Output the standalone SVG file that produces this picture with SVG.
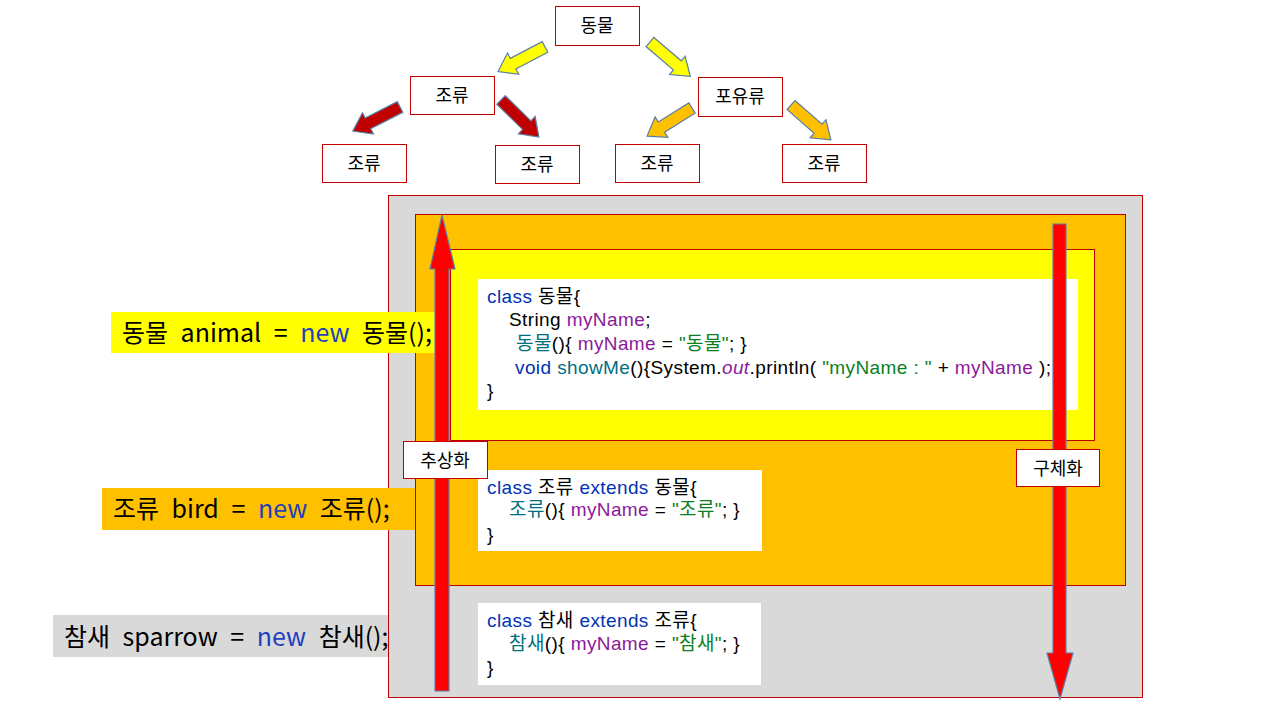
<svg xmlns="http://www.w3.org/2000/svg" width="1275" height="717" viewBox="0 0 1275 717">
<style>
.box{fill:#fff;stroke:#C00000;stroke-width:1}
.lbl{font-family:"Noto Sans CJK KR","Liberation Sans",sans-serif;font-size:18px;fill:#000;text-anchor:middle}
.code{font-family:"Liberation Sans","Noto Sans CJK KR",sans-serif;font-size:19px;letter-spacing:0.4px;fill:#000}
.big{font-family:"Noto Sans CJK KR","Liberation Sans",sans-serif;font-size:25px;word-spacing:7px;fill:#000}
.kw{fill:#0033B3}
.fn{fill:#00707F}
.fld{fill:#8B1A9A}
.str{fill:#0A7F1F}
.nw{fill:#1F3FBF}
.arr{stroke:#5B7FA6;stroke-width:1.2}
</style>
<defs>
<path id="blk" d="M0,-6 L36,-6 L36,-12 L53,0 L36,12 L36,6 L0,6 Z"/>
</defs>

<g id="tree-arrows">
<use href="#blk" class="arr" fill="#FFFF00" transform="translate(545,47) rotate(152.4)"/>
<use href="#blk" class="arr" fill="#FFFF00" transform="translate(650,42) rotate(40.5)"/>
<use href="#blk" class="arr" fill="#C00000" transform="translate(400,107) rotate(152.9)"/>
<use href="#blk" class="arr" fill="#C00000" transform="translate(501,100) rotate(44.3)"/>
<use href="#blk" class="arr" fill="#FFC000" transform="translate(692,108) rotate(148)"/>
<use href="#blk" class="arr" fill="#FFC000" transform="translate(791,105) rotate(41.2)"/>
</g>

<g id="n-animal"><rect class="box" x="555.5" y="6.5" width="84" height="39"/><text class="lbl" x="597" y="32">동물</text></g>
<g id="n-bird"><rect class="box" x="410.5" y="76.5" width="84" height="38"/><text class="lbl" x="452" y="102">조류</text></g>
<g id="n-mammal"><rect class="box" x="698.5" y="77.5" width="84" height="39"/><text class="lbl" x="740" y="103">포유류</text></g>
<g id="n-b1"><rect class="box" x="322.5" y="144.5" width="84" height="38"/><text class="lbl" x="364" y="170">조류</text></g>
<g id="n-b2"><rect class="box" x="495.5" y="145.5" width="84" height="38"/><text class="lbl" x="537" y="171">조류</text></g>
<g id="n-b3"><rect class="box" x="615.5" y="144.5" width="84" height="38"/><text class="lbl" x="657" y="170">조류</text></g>
<g id="n-b4"><rect class="box" x="782.5" y="144.5" width="84" height="38"/><text class="lbl" x="824" y="170">조류</text></g>

<g id="panel">
<rect x="388.5" y="195.5" width="754" height="502" fill="#D9D9D9" stroke="#C00000"/>
<rect x="415.5" y="214.5" width="710" height="371" fill="#FFC000" stroke="#C00000"/>
<rect x="450.5" y="249.5" width="644" height="191" fill="#FFFF00" stroke="#C00000"/>
</g>

<g id="code-animal">
<rect x="478" y="279" width="600" height="131" fill="#fff"/>
<text class="code" x="487" y="303"><tspan class="kw">class</tspan> 동물{</text>
<text class="code" x="509" y="326">String <tspan class="fld">myName</tspan>;</text>
<text class="code" x="516" y="350"><tspan class="fn">동물</tspan>(){ <tspan class="fld">myName</tspan> = <tspan class="str">"동물"</tspan>; }</text>
<text class="code" x="515" y="374"><tspan class="kw">void</tspan> <tspan class="fn">showMe</tspan>(){System.<tspan class="fld" font-style="italic">out</tspan>.println( <tspan class="str">"myName : "</tspan> + <tspan class="fld">myName</tspan> );</text>
<text class="code" x="487" y="397">}</text>
</g>

<g id="code-bird">
<rect x="478" y="470" width="284" height="81" fill="#fff"/>
<text class="code" x="487" y="494"><tspan class="kw">class</tspan> 조류 <tspan class="kw">extends</tspan> 동물{</text>
<text class="code" x="509" y="516"><tspan class="fn">조류</tspan>(){ <tspan class="fld">myName</tspan> = <tspan class="str">"조류"</tspan>; }</text>
<text class="code" x="487" y="541">}</text>
</g>

<g id="code-sparrow">
<rect x="478" y="603" width="283" height="82" fill="#fff"/>
<text class="code" x="487" y="627"><tspan class="kw">class</tspan> 참새 <tspan class="kw">extends</tspan> 조류{</text>
<text class="code" x="509" y="650"><tspan class="fn">참새</tspan>(){ <tspan class="fld">myName</tspan> = <tspan class="str">"참새"</tspan>; }</text>
<text class="code" x="487" y="674">}</text>
</g>

<g id="decl-animal">
<rect x="111" y="312" width="325" height="41" fill="#FFFF00"/>
<text class="big" x="122" y="342">동물 animal = <tspan class="nw">new</tspan> 동물();</text>
</g>
<g id="decl-bird">
<rect x="102" y="488" width="313" height="42" fill="#FFC000"/>
<text class="big" x="113" y="518">조류 bird = <tspan class="nw">new</tspan> 조류();</text>
</g>
<g id="decl-sparrow">
<rect x="53" y="615" width="335" height="42" fill="#D9D9D9"/>
<text class="big" x="64" y="646">참새 sparrow = <tspan class="nw">new</tspan> 참새();</text>
</g>

<g id="connectors">
<path class="arr" fill="#FF0000" d="M442,215 L455,269 L449,269 L449,691 L435,691 L435,269 L430,269 Z"/>
<path class="arr" fill="#FF0000" d="M1053,224 L1066,224 L1066,653 L1073,653 L1060,699 L1047,653 L1053,653 Z"/>
</g>

<g id="lbl-abstract"><rect class="box" x="403.5" y="441.5" width="84" height="37"/><text class="lbl" x="445" y="467">추상화</text></g>
<g id="lbl-concrete"><rect class="box" x="1016.5" y="449.5" width="83" height="37"/><text class="lbl" x="1058" y="475">구체화</text></g>
</svg>
